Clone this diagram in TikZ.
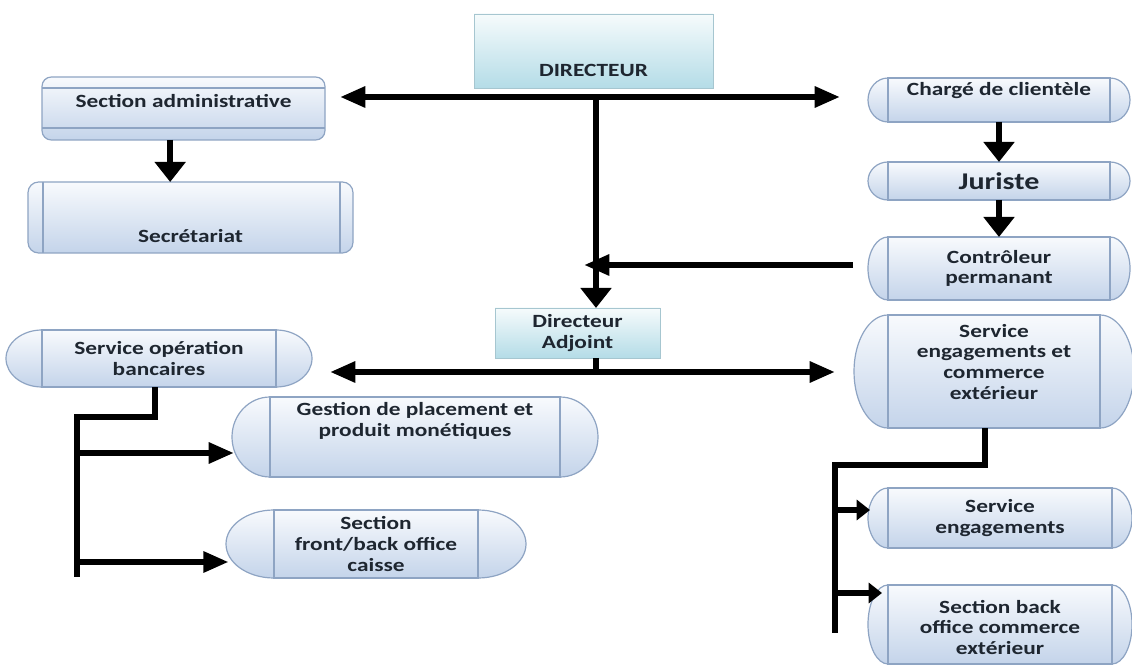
\documentclass[tikz,border=0pt]{standalone}
\usepackage{fontspec}
\setmainfont{Carlito}[FakeStretch=1.25]
\usetikzlibrary{arrows.meta}
\definecolor{capblue}{HTML}{C4D4EA}
\definecolor{captop}{HTML}{F8FAFD}
\definecolor{capline}{HTML}{8EA4C3}
\definecolor{dirtop}{HTML}{F6FBFC}
\definecolor{dirbot}{HTML}{B4DCE7}
\definecolor{dirline}{HTML}{A6C6D0}
\definecolor{txt}{HTML}{1E2630}
\newcommand\lblfont{\fontsize{14}{15.5}\selectfont\bfseries}
\newcommand\jurfont{\fontsize{18}{20}\selectfont\bfseries}
\newcommand\shiftbox[2]{\raisebox{#1}[0pt][0pt]{\begin{tabular}{@{}c@{}}#2\end{tabular}}}
\tikzset{
  capfill/.style={top color=captop, bottom color=capblue, draw=capline, line width=0.9pt},
  capbox/.style={capfill, rectangle, inner sep=0pt, outer sep=0pt, align=center, text=txt, font=\lblfont},
  dirbox/.style={rectangle, top color=dirtop, bottom color=dirbot, draw=dirline, line width=0.7pt,
    inner sep=0pt, outer sep=0pt, align=center, text=txt, font=\lblfont},
  sabox/.style={capbox, rounded corners=7pt,
    path picture={\draw[capline, line width=0.9pt]
      ([yshift=-8.25pt]path picture bounding box.north west) -- ([yshift=-8.25pt]path picture bounding box.north east)
      ([yshift=9pt]path picture bounding box.south west) -- ([yshift=9pt]path picture bounding box.south east);}},
  secbox/.style={capbox, rounded corners=8pt,
    path picture={\draw[capline, line width=0.9pt]
      ([xshift=11.25pt]path picture bounding box.north west) -- ([xshift=11.25pt]path picture bounding box.south west)
      ([xshift=-9.75pt]path picture bounding box.north east) -- ([xshift=-9.75pt]path picture bounding box.south east);}},
  conn/.style={line width=4.5pt, black, line join=miter},
  harr/.style={conn,-{Triangle[length=19pt,width=15pt]}},
  hboth/.style={conn,{Triangle[length=19pt,width=15pt]}-{Triangle[length=19pt,width=15pt]}},
  varr/.style={conn,-{Triangle[length=15pt,width=22.5pt]}},
  sarr/.style={conn,-{Triangle[length=10pt,width=15pt]}}
}
% capsule: [options]{name}{x1}{y1}{x2}{y2}{end radius}{text}
\newcommand\capnode[8][]{%
  \pgfmathsetmacro\cCx{(#3+#5)/2}%
  \pgfmathsetmacro\cCy{(#4+#6)/2}%
  \pgfmathsetmacro\cRy{(#6-#4)/2}%
  \pgfmathsetmacro\cW{(#5-#3)*0.75}%
  \pgfmathsetmacro\cH{(#6-#4)*0.75}%
  \pgfmathsetmacro\cKx{0.5523*#7}%
  \pgfmathsetmacro\cKy{0.5523*\cRy}%
  \path[capfill] (#3,#4) -- (#5,#4)
    .. controls (#5+\cKx,#4) and (#5+#7,\cCy-\cKy) .. (#5+#7,\cCy)
    .. controls (#5+#7,\cCy+\cKy) and (#5+\cKx,#6) .. (#5,#6) -- (#3,#6)
    .. controls (#3-\cKx,#6) and (#3-#7,\cCy+\cKy) .. (#3-#7,\cCy)
    .. controls (#3-#7,\cCy-\cKy) and (#3-\cKx,#4) .. (#3,#4) -- cycle;
  \node[capbox, minimum width=\cW pt, minimum height=\cH pt, #1] (#2) at (\cCx,\cCy) {#8};
}
\begin{document}
\begin{tikzpicture}[x=0.75pt,y=-0.75pt]
\useasboundingbox[fill=white] (0,0) rectangle (1132,666);

% ---- boxes
\node[dirbox, minimum width=179.25pt, minimum height=55.5pt] (dir) at (593.5,51) {\shiftbox{-20pt}{DIRECTEUR}};
\node[dirbox, minimum width=123.75pt, minimum height=37.5pt] (da) at (577.5,333) {Directeur\\Adjoint};
\node[sabox, minimum width=212.25pt, minimum height=47.25pt] (sa) at (183.5,108.5) {\shiftbox{0.5pt}{Section administrative}};
\node[secbox, minimum width=243.75pt, minimum height=53.25pt] (sec) at (190.5,217.5) {\shiftbox{-19pt}{Secrétariat}};

\capnode{cc}{888}{78}{1110}{122}{20}{\shiftbox{2.5pt}{Chargé de clientèle}}
\capnode[font=\jurfont]{ju}{888}{162}{1110}{200}{20}{Juriste}
\capnode{cp}{888}{237}{1110}{300}{20}{Contrôleur\\permanant}
\capnode{so}{42}{330}{276}{387}{36}{Service opération\\bancaires}
\capnode{sece}{888}{315}{1100}{428}{34}{\shiftbox{2pt}{Service\\engagements et\\commerce\\extérieur}}
\capnode{gp}{270}{397}{560}{477}{38}{\shiftbox{7.5pt}{Gestion de placement et\\produit monétiques}}
\capnode{fb}{274}{510}{478}{578}{48}{Section\\front/back office\\caisse}
\capnode{se}{888}{488}{1112}{548}{20}{Service\\engagements}
\capnode{sbo}{888}{585}{1112}{664}{20}{\shiftbox{-7.5pt}{Section back\\office commerce\\extérieur}}

% ---- junction coordinates
\coordinate (jTop) at (596,97);
\coordinate (tipSA) at (340,97);
\coordinate (tipCC) at (840,97);
\coordinate (jBot) at (596,372);
\coordinate (tipSO) at (330,372);
\coordinate (tipSE) at (835,372);
\coordinate (cpTail) at (853,265);
\coordinate (lTop) at (77,417);
\coordinate (lEnd) at (77,577);
\coordinate (lB1) at (77,453);
\coordinate (lB2) at (77,562);
\coordinate (rTop) at (835,465);
\coordinate (rEnd) at (835,633);
\coordinate (rB1) at (835,510);
\coordinate (rB2) at (835,593);

% ---- connectors
\draw[hboth] (tipSA) -- (tipCC);
\draw[varr] ([yshift=-2pt]jTop) -- (jTop |- da.north);
\draw[harr] (cpTail) -- ([xshift=-9pt]jTop |- cpTail);
\draw[varr] ([xshift=-10pt]sa.south) -- ([xshift=-10pt]sa.south |- sec.north);
\draw[varr] (cc.south) -- (ju.north);
\draw[varr] (ju.south) -- (cp.north);

\draw[conn] (da.south -| jBot) -- ([yshift=2pt]jBot);
\draw[hboth] (tipSO) -- (tipSE);

\draw[conn] ([xshift=-3pt]so.south) |- (lTop) -- (lEnd);
\draw[harr] (lB1) -- ([xshift=-27pt]gp.west |- lB1);
\draw[harr] (lB2) -- ([xshift=-34pt]fb.west |- lB2);

\draw[conn] ([xshift=-7pt]sece.south) |- (rTop) -- (rEnd);
\draw[sarr] (rB1) -- ([xshift=-13.5pt]se.west |- rB1);
\draw[sarr] (rB2) -- ([xshift=-4.5pt]sbo.west |- rB2);
\end{tikzpicture}
\end{document}
